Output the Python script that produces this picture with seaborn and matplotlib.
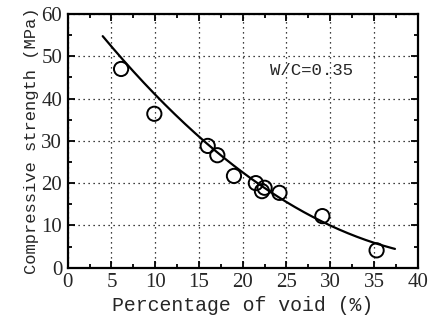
import numpy as np
import pandas as pd
import matplotlib
matplotlib.use("Agg")
import matplotlib.pyplot as plt
import seaborn as sns
from matplotlib.ticker import MultipleLocator

# data
void_pct = [6.1, 9.9, 16.0, 17.1, 19.0, 21.5, 22.5, 22.2, 24.2, 29.1, 35.3]
strength = [47.0, 36.4, 28.8, 26.6, 21.7, 20.0, 18.9, 18.1, 17.7, 12.2, 4.1]
# fitted curve (smoothed with a quadratic)
curve_x = [4.0, 10.0, 16.0, 22.0, 29.0, 37.4]
curve_y = [55.2, 40.0, 29.5, 19.8, 11.0, 4.35]
x_ticks = [0, 5, 10, 15, 20, 25, 30, 35, 40]
y_ticks = [0, 10, 20, 30, 40, 50, 60]
annotation = "W/C=0.35"

sns.set_theme(style="ticks")
plt.rcParams["font.family"] = ["Liberation Mono", "DejaVu Sans"]

df = pd.DataFrame({"void": void_pct, "strength": strength})
coef = np.polyfit(curve_x, curve_y, 2)
cx = np.linspace(curve_x[0], curve_x[-1], 200)
curve = pd.DataFrame({"void": cx, "strength": np.polyval(coef, cx)})

fig = plt.figure(figsize=(4.44, 3.24), dpi=100)
ax = fig.add_axes([0.1525, 0.1738, 0.7883, 0.783])

sns.lineplot(data=curve, x="void", y="strength", ax=ax, color="black", lw=1.6)
sns.scatterplot(data=df, x="void", y="strength", ax=ax, s=105, facecolor="none",
                edgecolor="black", linewidth=1.4, zorder=5)

ax.set_xlim(0, 40)
ax.set_ylim(0, 60)
ax.set_xticks(x_ticks)
ax.set_yticks(y_ticks)
ax.xaxis.set_minor_locator(MultipleLocator(2.5))
ax.yaxis.set_minor_locator(MultipleLocator(5))
ax.tick_params(which="both", direction="in", top=True, right=True, width=1.3, color="black")
ax.tick_params(which="major", length=5, labelsize=15, pad=4)
ax.tick_params(which="minor", length=3)
for lab in ax.get_xticklabels() + ax.get_yticklabels():
    lab.set_family(["Liberation Serif", "DejaVu Serif"])
for s in ax.spines.values():
    s.set_linewidth(1.6)
    s.set_color("black")
ax.grid(True, which="major", linestyle=(0, (1, 3)), color="black", linewidth=0.9)

ax.set_xlabel("Percentage of void (%)", fontsize=14.3, labelpad=3)
ax.set_ylabel("Compressive strength (MPa)", fontsize=12.3, labelpad=2)
ax.text(23.1, 46.7, annotation, fontsize=12.5, va="center", ha="left")

fig.savefig("out.png", dpi=100)
